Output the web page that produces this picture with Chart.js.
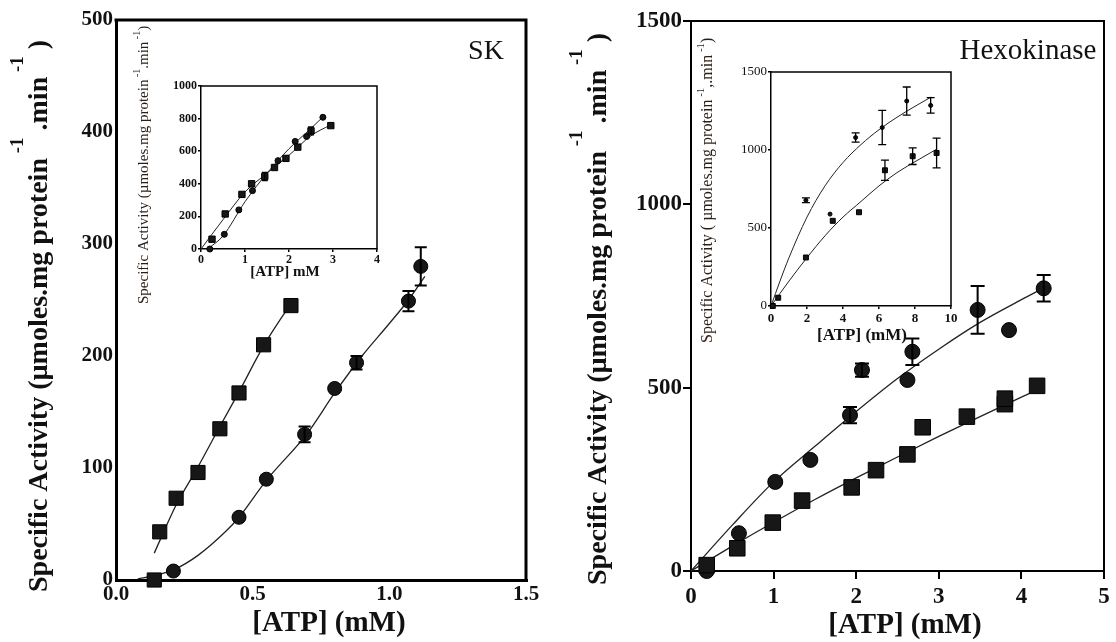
<!DOCTYPE html>
<html>
<head>
<meta charset="utf-8">
<title>ATP kinetics</title>
<script src="https://cdn.jsdelivr.net/npm/chart.js@4.4.1/dist/chart.umd.min.js"></script>
<style>
  html, body { margin: 0; padding: 0; background: #fff; }
  #wrap { position: relative; width: 1116px; height: 642px; overflow: hidden; }
  canvas { position: absolute; }
</style>
</head>
<body>
<div id="wrap">
  <canvas id="skMain" width="558" height="642" style="left:0px;top:0px"></canvas>
  <canvas id="hkMain" width="558" height="642" style="left:558px;top:0px"></canvas>
  <canvas id="skInset" width="270" height="310" style="left:120px;top:0px"></canvas>
  <canvas id="hkInset" width="290" height="335" style="left:690px;top:15px"></canvas>
</div>
<script>
// ---- SK, main plot ----
const skXTicks = [0, 0.5, 1.0, 1.5];
const skYTicks = [0, 100, 200, 300, 400, 500];
const skAtpSq = [0.14, 0.16, 0.22, 0.30, 0.38, 0.45, 0.54, 0.64];
const skActSq = [0, 43, 73, 96, 135, 167, 210, 245];
const skAtpCir = [0.21, 0.45, 0.55, 0.69, 0.80, 0.88, 1.07, 1.115];
const skActCir = [8, 56, 90, 130, 171, 194, 249, 280];
const skErrCir = [0, 0, 0, 7, 0, 6, 9, 17];
const skFitSqAtp = [0.14, 0.18, 0.22, 0.30, 0.38, 0.45, 0.54, 0.64];
const skFitSqAct = [24, 46, 67, 101, 137, 168, 209, 247];
const skFitCirAtp = [0.08, 0.14, 0.21, 0.30, 0.40, 0.45, 0.55, 0.70, 0.80, 0.90, 1.00, 1.07, 1.13];
const skFitCirAct = [1, 4, 9, 22, 43, 56, 89, 131, 167, 200, 229, 250, 271];

// ---- SK, inset ----
const skInXTicks = [0, 1, 2, 3, 4];
const skInYTicks = [0, 200, 400, 600, 800, 1000];
const skInAtpSq = [0.25, 0.55, 0.93, 1.15, 1.45, 1.67, 1.93, 2.20, 2.50, 2.95];
const skInActSq = [60, 215, 335, 400, 445, 500, 556, 625, 725, 757];
const skInErrSq = [0, 0, 0, 0, 25, 0, 0, 0, 25, 0];
const skInAtpCir = [0.20, 0.53, 0.86, 1.17, 1.75, 2.14, 2.40, 2.77];
const skInActCir = [0, 90, 240, 358, 542, 660, 690, 808];
const skInFitSqAtp = [0, 0.5, 1.0, 1.5, 2.0, 2.5, 2.95];
const skInFitSqAct = [0, 180, 350, 465, 575, 695, 762];
const skInFitCirAtp = [0.15, 0.5, 1.0, 1.5, 2.0, 2.5, 2.77];
const skInFitCirAct = [0, 80, 290, 465, 615, 740, 810];

// ---- Hexokinase, main plot ----
const hkXTicks = [0, 1, 2, 3, 4, 5];
const hkYTicks = [0, 500, 1000, 1500];
const hkAtpCir = [0.19, 0.58, 1.02, 1.445, 1.925, 2.07, 2.62, 2.68, 3.47, 3.85, 4.27];
const hkActCir = [0, 103, 243, 303, 425, 548, 521, 598, 712, 657, 771];
const hkErrCir = [0, 0, 0, 0, 22, 18, 0, 36, 65, 0, 36];
const hkAtpSq = [0.19, 0.56, 0.99, 1.345, 1.945, 2.24, 2.62, 2.805, 3.34, 3.80, 3.80, 4.19];
const hkActSq = [16, 62, 132, 192, 228, 275, 318, 392, 421, 455, 470, 505];
const hkFitCirAtp = [0, 0.5, 1, 1.5, 2, 2.5, 3, 3.5, 4, 4.27];
const hkFitCirAct = [0, 125, 243, 340, 435, 525, 605, 678, 740, 772];
const hkFitSqAtp = [0, 0.5, 1, 1.5, 2, 2.5, 3, 3.5, 4, 4.2];
const hkFitSqAct = [0, 68, 133, 195, 254, 311, 367, 421, 474, 495];

// ---- Hexokinase, inset ----
const hkInXTicks = [0, 2, 4, 6, 8, 10];
const hkInYTicks = [0, 500, 1000, 1500];
const hkInAtpUp = [0.1, 1.94, 3.28, 4.70, 6.18, 7.54, 8.87];
const hkInActUp = [0, 678, 589, 1080, 1144, 1314, 1286];
const hkInErrUp = [0, 15, 0, 30, 110, 90, 50];
const hkInAtpLo = [0.1, 0.4, 1.94, 3.43, 4.89, 6.33, 7.87, 9.2];
const hkInActLo = [0, 53, 311, 546, 601, 870, 960, 981];
const hkInErrLo = [0, 0, 0, 0, 0, 65, 53, 95];
const hkInFitUpAtp = [0, 0.5, 1, 2, 3, 4, 5, 6, 7, 8, 8.9];
const hkInFitUpAct = [0, 160, 310, 570, 770, 920, 1035, 1130, 1210, 1280, 1340];
const hkInFitLoAtp = [0, 1, 2, 3, 4, 5, 6, 7, 8, 9.2];
const hkInFitLoAct = [0, 160, 310, 450, 570, 670, 770, 855, 925, 1005];

const SERIF = '"Liberation Serif", "Times New Roman", serif';
const INK = '#111';
const BROWN = '#2a1d14';

function pts(xs, ys) {
  return xs.map((x, i) => ({ x: x, y: ys[i] }));
}

function marks(xs, ys, style, r, errs) {
  return {
    data: pts(xs, ys), pointStyle: style, pointRadius: r, pointHoverRadius: r,
    backgroundColor: '#171717', borderColor: '#000', borderWidth: 1,
    showLine: false, clip: false, errors: errs || null
  };
}

function fit(xs, ys, w) {
  return {
    data: pts(xs, ys), showLine: true, pointRadius: 0, pointHoverRadius: 0,
    borderColor: '#222', borderWidth: w, cubicInterpolationMode: 'monotone',
    fill: false, clip: false
  };
}

function font(size, bold) {
  return { family: SERIF, size: size, weight: bold ? 'bold' : 'normal' };
}

function axis(o) {
  return {
    type: 'linear', position: o.pos, min: o.min, max: o.max,
    afterBuildTicks: s => { s.ticks = o.ticks.map(v => ({ value: v })); },
    afterFit: s => { if (o.pos === 'left') s.width = o.size; else s.height = o.size; },
    ticks: {
      font: o.font, color: INK, padding: o.pad, autoSkip: false, maxRotation: 0,
      callback: o.fmt || (v => String(v))
    },
    grid: {
      display: o.tick > 0, drawOnChartArea: false, drawTicks: o.tick > 0,
      tickLength: o.tick, color: '#000', lineWidth: o.border
    },
    border: { display: true, color: '#000', width: o.border }
  };
}

// rotated axis title with raised "-1" pieces
function rotatedTitle(segsBase, sup, size, supSize, dy) {
  const f = (bold, s) => (bold ? 'bold ' : '') + s + 'px ' + SERIF;
  return [
    { t: segsBase[0], font: f(sup.bold, size) },
    { t: ' -1', font: f(sup.bold, supSize), dy: dy },
    { t: segsBase[1], font: f(sup.bold, size) },
    { t: ' -1', font: f(sup.bold, supSize), dy: dy },
    { t: segsBase[2], font: f(sup.bold, size) }
  ];
}

const decor = {
  id: 'decor',
  afterDatasetsDraw(chart, args, o) {
    if (!o.cap) return;
    const ctx = chart.ctx, sx = chart.scales.x, sy = chart.scales.y;
    ctx.save();
    ctx.strokeStyle = '#000';
    ctx.lineWidth = o.barWidth;
    chart.data.datasets.forEach(ds => {
      if (!ds.errors) return;
      ds.data.forEach((p, j) => {
        const e = ds.errors[j];
        if (!e) return;
        const x = sx.getPixelForValue(p.x);
        const t = sy.getPixelForValue(p.y + e), b = sy.getPixelForValue(p.y - e);
        ctx.beginPath();
        ctx.moveTo(x, t); ctx.lineTo(x, b);
        ctx.moveTo(x - o.cap, t); ctx.lineTo(x + o.cap, t);
        ctx.moveTo(x - o.cap, b); ctx.lineTo(x + o.cap, b);
        ctx.stroke();
      });
    });
    ctx.restore();
  },
  afterDraw(chart, args, o) {
    const ctx = chart.ctx, a = chart.chartArea;
    ctx.save();
    if (o.frame) {
      ctx.strokeStyle = '#000';
      ctx.lineWidth = o.frame;
      ctx.beginPath();
      ctx.moveTo(a.left - o.frame / 2, a.top);
      ctx.lineTo(a.right, a.top);
      ctx.lineTo(a.right, a.bottom + o.frame / 2);
      ctx.stroke();
    }
    (o.texts || []).forEach(t => {
      ctx.font = t.font;
      ctx.fillStyle = t.color || INK;
      ctx.textAlign = 'center';
      ctx.textBaseline = 'middle';
      ctx.fillText(t.text, t.x, t.y);
    });
    if (o.vtitle) {
      const v = o.vtitle;
      ctx.translate(v.x, v.y);
      ctx.rotate(-Math.PI / 2);
      ctx.textAlign = 'left';
      ctx.textBaseline = 'middle';
      ctx.fillStyle = v.color || INK;
      let pos = 0;
      v.segs.forEach(s => {
        ctx.font = s.font;
        ctx.fillText(s.t, pos, s.dy || 0);
        pos += ctx.measureText(s.t).width;
      });
    }
    ctx.restore();
  }
};
Chart.register(decor);

function baseOptions(pad, scales, deco) {
  return {
    responsive: false, animation: false, events: [],
    layout: { padding: pad },
    scales: scales,
    plugins: { legend: { display: false }, tooltip: { enabled: false }, decor: deco }
  };
}

// SK main
new Chart(document.getElementById('skMain'), {
  type: 'scatter',
  data: { datasets: [
    marks(skAtpSq, skActSq, 'rect', 10),
    marks(skAtpCir, skActCir, 'circle', 7, skErrCir),
    fit(skFitSqAtp, skFitSqAct, 1.3),
    fit(skFitCirAtp, skFitCirAct, 1.3)
  ] },
  options: baseOptions({ top: 20, right: 32, left: 0, bottom: 0 }, {
    x: axis({ pos: 'bottom', min: 0, max: 1.5, ticks: skXTicks, fmt: v => v.toFixed(1),
      font: font(21, true), pad: 2, size: 62, border: 3, tick: 0 }),
    y: axis({ pos: 'left', min: 0, max: 500, ticks: skYTicks,
      font: font(21, true), pad: 3, size: 116, border: 3, tick: 0 })
  }, {
    cap: 6, barWidth: 2, frame: 3,
    texts: [
      { text: 'SK', x: 486, y: 52, font: '28px ' + SERIF },
      { text: '[ATP] (mM)', x: 329, y: 624, font: 'bold 29px ' + SERIF }
    ],
    vtitle: { x: 40, y: 592,
      segs: rotatedTitle(['Specific Activity (µmoles.mg protein', ' .min', ' )'], { bold: true }, 28, 19, -22) }
  })
});

// Hexokinase main
new Chart(document.getElementById('hkMain'), {
  type: 'scatter',
  data: { datasets: [
    marks(hkAtpSq, hkActSq, 'rect', 11),
    marks(hkAtpCir, hkActCir, 'circle', 7.5, hkErrCir),
    fit(hkFitSqAtp, hkFitSqAct, 1.3),
    fit(hkFitCirAtp, hkFitCirAct, 1.3)
  ] },
  options: baseOptions({ top: 21, right: 5, left: 0, bottom: 0 }, {
    x: axis({ pos: 'bottom', min: 0, max: 5, ticks: hkXTicks,
      font: font(23, true), pad: 4, size: 71, border: 2, tick: 8 }),
    y: axis({ pos: 'left', min: 0, max: 1500, ticks: hkYTicks,
      font: font(23, true), pad: 1, size: 133, border: 2, tick: 8 })
  }, {
    cap: 7, barWidth: 2, frame: 2,
    texts: [
      { text: 'Hexokinase', x: 470, y: 51, font: '29px ' + SERIF },
      { text: '[ATP] (mM)', x: 347, y: 626, font: 'bold 29px ' + SERIF }
    ],
    vtitle: { x: 41, y: 585,
      segs: rotatedTitle(['Specific Activity (µmoles.mg protein', ' .min', ' )'], { bold: true }, 28, 19, -22) }
  })
});

// SK inset
new Chart(document.getElementById('skInset'), {
  type: 'scatter',
  data: { datasets: [
    marks(skInAtpSq, skInActSq, 'rect', 4.5, skInErrSq),
    marks(skInAtpCir, skInActCir, 'circle', 3),
    fit(skInFitSqAtp, skInFitSqAct, 1),
    fit(skInFitCirAtp, skInFitCirAct, 1)
  ] },
  options: baseOptions({ top: 86, right: 13, left: 0, bottom: 0 }, {
    x: axis({ pos: 'bottom', min: 0, max: 4, ticks: skInXTicks,
      font: font(12, true), pad: 1, size: 61, border: 1.5, tick: 3 }),
    y: axis({ pos: 'left', min: 0, max: 1000, ticks: skInYTicks,
      font: font(12, true), pad: 1, size: 81, border: 1.5, tick: 3 })
  }, {
    cap: 3, barWidth: 1.2, frame: 1.5,
    texts: [
      { text: '[ATP] mM', x: 165, y: 272, font: 'bold 15px ' + SERIF }
    ],
    vtitle: { x: 24, y: 304, color: BROWN,
      segs: rotatedTitle(['Specific Activity (µmoles.mg protein', '.min', ')'], { bold: false }, 15, 10, -7) }
  })
});

// Hexokinase inset
new Chart(document.getElementById('hkInset'), {
  type: 'scatter',
  data: { datasets: [
    marks(hkInAtpLo, hkInActLo, 'rect', 3.5, hkInErrLo),
    marks(hkInAtpUp, hkInActUp, 'circle', 2, hkInErrUp),
    fit(hkInFitLoAtp, hkInFitLoAct, 1),
    fit(hkInFitUpAtp, hkInFitUpAct, 1)
  ] },
  options: baseOptions({ top: 57, right: 29, left: 0, bottom: 0 }, {
    x: axis({ pos: 'bottom', min: 0, max: 10, ticks: hkInXTicks,
      font: font(13, true), pad: 2, size: 44, border: 1.5, tick: 3 }),
    y: axis({ pos: 'left', min: 0, max: 1500, ticks: hkInYTicks,
      font: font(13, false), pad: 1, size: 81, border: 1.5, tick: 3 })
  }, {
    cap: 4, barWidth: 1.3, frame: 1.5,
    texts: [
      { text: '[ATP] (mM)', x: 172, y: 321, font: 'bold 17px ' + SERIF }
    ],
    vtitle: { x: 18, y: 328, color: BROWN,
      segs: rotatedTitle(['Specific Activity ( µmoles.mg protein', ',.min', ')'], { bold: false }, 16, 11, -7) }
  })
});
</script>
</body>
</html>
